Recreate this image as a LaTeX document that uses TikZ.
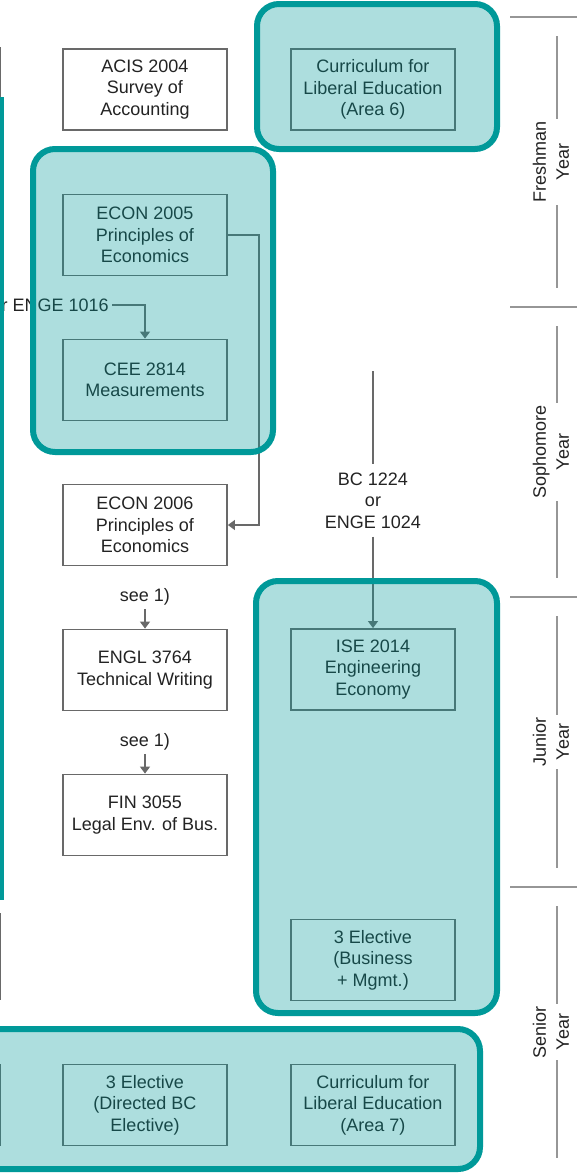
\documentclass[tikz,border=0pt]{standalone}
\usepackage{fontspec}
\setmainfont{Liberation Sans}
\usetikzlibrary{arrows.meta, math}
\definecolor{myteal}{RGB}{0,153,153}
\definecolor{boxgray}{RGB}{105,105,105}
\definecolor{txtgray}{RGB}{35,35,35}
\definecolor{sepgray}{RGB}{150,150,150}

\tikzset{
  course/.style={draw=boxgray, line width=0.9pt, fill=white, inner sep=0pt,
    minimum width=82pt, minimum height=40.5pt, align=center, text=txtgray,
    font=\fontsize{9}{10.7}\selectfont},
  note/.style={inner sep=1.5pt, align=center, text=txtgray,
    font=\fontsize{9}{10.7}\selectfont},
  conn/.style={draw=boxgray, line width=0.6pt},
  tip/.style={-{Triangle[width=5pt,length=3.5pt]}},
  group/.style={draw=myteal, line width=3pt, fill=myteal, fill opacity=0.32,
    rounded corners=11pt},
  sep/.style={draw=sepgray, line width=1pt},
  yearlab/.style={rotate=90, fill=white, inner sep=1pt, align=center,
    text=txtgray, font=\fontsize{9}{11.5}\selectfont},
}

\begin{document}
\begin{tikzpicture}[x=0.5pt,y=-0.5pt]
\tikzmath{
\yS=17;
\yH=290;
}
\useasboundingbox (0,0) rectangle (577,1174);

% courses
\node[course] (acis) at (145,89.5) {ACIS 2004\\Survey of\\Accounting};
\node[course] (libA) at (373,89.5) {Curriculum for\\Liberal Education\\(Area 6)};
\node[course] (econA) at (145,235) {ECON 2005\\Principles of\\Economics};
\node[course] (cee) at (145,380) {CEE 2814\\Measurements};
\node[course] (econB) at (145,525) {ECON 2006\\Principles of\\Economics};
\node[course] (engl) at (145,670) {ENGL 3764\\Technical Writing};
\node[course] (fin) at (145,815) {FIN 3055\\Legal Env. of Bus.};
\node[course] (ise) at (373,669.5) {ISE 2014\\Engineering\\Economy};
\node[course] (biz) at (373,960) {3 Elective\\(Business\\+ Mgmt.)};
\node[course] (bcel) at (145,1105) {3 Elective\\(Directed BC\\Elective)};
\node[course] (libB) at (373,1105) {Curriculum for\\Liberal Education\\(Area 7)};

% prerequisites
\node[note, anchor=east] (enge) at (112,305) {or ENGE 1016};
\draw[conn, tip] (enge.east) -| (cee.north);
\draw[conn, tip] (econA.east) -- ++(31,0) |- (econB.east);

\node[note] (seeA) at (145,597) {see 1)};
\draw[conn, tip] (seeA.south) -- (engl.north);
\node[note] (seeB) at (145,742) {see 1)};
\draw[conn, tip] (seeB.south) -- (fin.north);

\coordinate (bctop) at (373,371);
\node[note, inner sep=4pt] (bc) at (373,500.5) {BC 1224\\or\\ENGE 1024};
\draw[conn] (bctop) -- (bc.north);
\draw[conn, tip] (bc.south) -- (ise.north);

% pieces at the left edge
\draw[conn] (0.5,47) -- (0.5,97);
\draw[conn] (0.5,913) -- (0.5,1000);
\draw[conn] (0.5,1064) -- (0.5,1146);
\draw[myteal, line width=2pt] (1.5,97) -- (1.5,900);

% highlighted groups
\draw[group] (257,4) rectangle (497,149);
\draw[group] (33,149) rectangle (273,452);
\draw[group] (256,581) rectangle (497,1013);
\draw[group] (-60,1029) rectangle (480,1169);

% years
\foreach \yr/\lab [count=\i from 0] in {fr/Freshman, so/Sophomore, ju/Junior, se/Senior}{
  \pgfmathsetmacro\ys{\yS+\yH*\i}
  \draw[sep] (510,\ys) -- (577,\ys);
  \draw[sep] (557,\ys+19) -- (557,\ys+271);
  \node[yearlab] (\yr) at (551,\ys+145) {\lab\\Year};
}
\end{tikzpicture}
\end{document}
